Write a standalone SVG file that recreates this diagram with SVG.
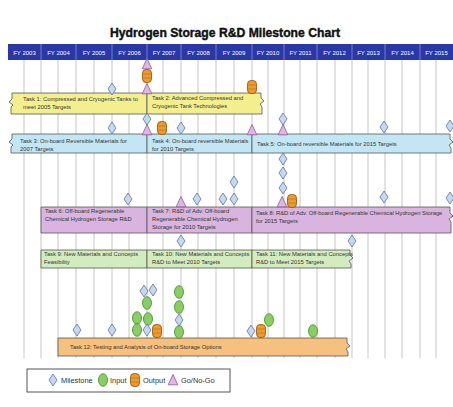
<svg xmlns="http://www.w3.org/2000/svg" xmlns:xlink="http://www.w3.org/1999/xlink" width="453" height="407" viewBox="0 0 453 407">
<style>
.t{font-family:"Liberation Sans",Arial,sans-serif;font-size:5.8px;fill:#333333}
.fy{font-family:"Liberation Sans",Arial,sans-serif;font-size:6px;fill:#ffffff;text-anchor:middle}
.lg{font-family:"Liberation Sans",Arial,sans-serif;font-size:7.4px;fill:#333}
.grid line{stroke:#c2bcbc;stroke-width:0.9}
.bar{stroke:#555555;stroke-width:0.8}
.y{fill:#f4ef8e}.b{fill:#c3e6f4}.p{fill:#d9b4de}.g{fill:#d3ecbf}.o{fill:#f6c07e}
</style>
<defs>
<path id="ms" d="M0,-6 L4,0 L0,6 L-4,0 Z" fill="#c6d8ee" stroke="#5a72a6" stroke-width="0.8"/>
<ellipse id="in" rx="4.5" ry="6.3" fill="#88cf60" stroke="#3d8a38" stroke-width="0.8"/>
<g id="out"><rect x="-4.5" y="-6.5" width="9" height="13" rx="3.6" fill="#f09a28" stroke="#8a5210" stroke-width="0.8"/><line x1="-4" y1="-2" x2="4" y2="-2" stroke="#b86a10" stroke-width="0.6"/><line x1="-4" y1="2" x2="4" y2="2" stroke="#b86a10" stroke-width="0.6"/></g>
<path id="gn" d="M0,-5.5 L4.8,4.8 L-4.8,4.8 Z" fill="#e2b5e6" stroke="#8e5a96" stroke-width="0.8"/>
</defs>
<rect width="453" height="407" fill="#ffffff"/>
<text x="225" y="37" text-anchor="middle" textLength="230" lengthAdjust="spacingAndGlyphs" style="font-family:'Liberation Sans',Arial,sans-serif;font-weight:bold;font-size:13.5px;fill:#111;stroke:#111;stroke-width:0.45">Hydrogen Storage R&amp;D Milestone Chart</text>

<g id="header">
<rect x="8" y="44" width="445" height="16" fill="#2a37a6"/>
<g stroke="#8890d0" stroke-width="0.8">
<line x1="41" y1="44" x2="41" y2="60"/><line x1="76" y1="44" x2="76" y2="60"/><line x1="112" y1="44" x2="112" y2="60"/><line x1="147" y1="44" x2="147" y2="60"/><line x1="181" y1="44" x2="181" y2="60"/><line x1="216" y1="44" x2="216" y2="60"/><line x1="252" y1="44" x2="252" y2="60"/><line x1="284" y1="44" x2="284" y2="60"/><line x1="317" y1="44" x2="317" y2="60"/><line x1="352" y1="44" x2="352" y2="60"/><line x1="385" y1="44" x2="385" y2="60"/><line x1="420" y1="44" x2="420" y2="60"/>
</g>
<text class="fy" x="24.5" y="54.5">FY 2003</text><text class="fy" x="58.5" y="54.5">FY 2004</text><text class="fy" x="94" y="54.5">FY 2005</text><text class="fy" x="129.5" y="54.5">FY 2006</text><text class="fy" x="164" y="54.5">FY 2007</text><text class="fy" x="198.5" y="54.5">FY 2008</text><text class="fy" x="234" y="54.5">FY 2009</text><text class="fy" x="268" y="54.5">FY 2010</text><text class="fy" x="300.5" y="54.5">FY 2011</text><text class="fy" x="334.5" y="54.5">FY 2012</text><text class="fy" x="368.5" y="54.5">FY 2013</text><text class="fy" x="402.5" y="54.5">FY 2014</text><text class="fy" x="436.5" y="54.5">FY 2015</text>
</g>

<g id="connectors" class="grid">
<line x1="24" y1="60" x2="24" y2="358"/><line x1="41" y1="60" x2="41" y2="358"/><line x1="58" y1="60" x2="58" y2="358"/><line x1="76" y1="60" x2="76" y2="358"/><line x1="94" y1="60" x2="94" y2="358"/><line x1="112" y1="60" x2="112" y2="358"/><line x1="129" y1="60" x2="129" y2="358"/><line x1="147" y1="60" x2="147" y2="358"/><line x1="163" y1="60" x2="163" y2="358"/><line x1="181" y1="60" x2="181" y2="358"/><line x1="198" y1="60" x2="198" y2="358"/><line x1="216" y1="60" x2="216" y2="358"/><line x1="234" y1="60" x2="234" y2="358"/><line x1="252" y1="60" x2="252" y2="358"/><line x1="268" y1="60" x2="268" y2="358"/><line x1="284" y1="60" x2="284" y2="358"/><line x1="300" y1="60" x2="300" y2="358"/><line x1="317" y1="60" x2="317" y2="358"/><line x1="335" y1="60" x2="335" y2="358"/><line x1="352" y1="60" x2="352" y2="358"/><line x1="368" y1="60" x2="368" y2="358"/><line x1="385" y1="60" x2="385" y2="358"/><line x1="402" y1="60" x2="402" y2="358"/><line x1="420" y1="60" x2="420" y2="358"/><line x1="436" y1="60" x2="436" y2="358"/>
</g>

<g id="task1"><path class="bar y" d="M147,93 H12 V99 l-3,3 l4,3 l-2,2 V114 H147 Z"/><text class="t" x="23" y="101">Task 1: Compressed and Cryogenic Tanks to</text><text class="t" x="23" y="109">meet 2005 Targets</text></g>
<g id="task2"><path class="bar y" d="M147,93 H261 V98 l3,3 l-4,3 l2,3 V114 H147 Z"/><text class="t" x="152" y="100">Task 2: Advanced Compressed and</text><text class="t" x="152" y="108">Cryogenic Tank Technologies</text></g>
<g id="task3"><path class="bar b" d="M147,134 H12 V139 l-3,3 l4,3 l-2,2 V153 H147 Z"/><text class="t" x="20" y="143">Task 3: On-board Reversible Materials for</text><text class="t" x="20" y="151">2007 Targets</text></g>
<g id="task4"><path class="bar b" d="M147,134 H252 V153 H147 Z"/><text class="t" x="152" y="143">Task 4: On-board reversible Materials</text><text class="t" x="152" y="151">for 2010 Targets</text></g>
<g id="task5"><path class="bar b" d="M252,134 H450 V139 l3,3 l-4,3 l2,3 V153 H252 Z"/><text class="t" x="257" y="146">Task 5: On-board reversible Materials for 2015 Targets</text></g>
<g id="task6"><path class="bar p" d="M41,207 H147 V233 H41 Z"/><text class="t" x="45" y="213">Task 6: Off-board Regenerable</text><text class="t" x="45" y="221">Chemical Hydrogen Storage R&amp;D</text></g>
<g id="task7"><path class="bar p" d="M147,207 H252 V233 H147 Z"/><text class="t" x="152" y="213">Task 7: R&amp;D of Adv. Off-board</text><text class="t" x="152" y="221">Regenerable Chemical Hydrogen</text><text class="t" x="152" y="229">Storage for 2010 Targets</text></g>
<g id="task8"><path class="bar p" d="M252,207 H450 V213 l3,3 l-4,3 l2,3 V233 H252 Z"/><text class="t" x="256" y="215">Task 8: R&amp;D of Adv. Off-board Regenerable Chemical Hydrogen Storage</text><text class="t" x="256" y="223">for 2015 Targets</text></g>
<g id="task9"><path class="bar g" d="M41,250 H147 V268 H41 Z"/><text class="t" x="44" y="256">Task 9: New Materials and Concepts</text><text class="t" x="44" y="264">Feasibility</text></g>
<g id="task10"><path class="bar g" d="M147,250 H252 V268 H147 Z"/><text class="t" x="152" y="256">Task 10: New Materials and Concepts</text><text class="t" x="152" y="264">R&amp;D to Meet 2010 Targets</text></g>
<g id="task11"><path class="bar g" d="M252,250 H350 V255 l3,3 l-4,3 l2,3 V268 H252 Z"/><text class="t" x="256" y="256">Task 11: New Materials and Concepts</text><text class="t" x="256" y="264">R&amp;D to Meet 2015 Targets</text></g>
<g id="task12"><path class="bar o" d="M58,338 H347 V343 l3,3 l-4,3 l2,3 V356 H58 Z"/><text class="t" x="70" y="349">Task 12: Testing and Analysis of On-board Storage Options</text></g>

<g id="markers">
<use href="#gn" x="147" y="64"/><use href="#out" x="147" y="76"/><use href="#gn" x="147" y="89"/>
<use href="#ms" x="112" y="89"/>
<use href="#out" x="252" y="87"/>
<use href="#ms" x="147" y="119"/><use href="#gn" x="147" y="130"/>
<use href="#ms" x="112" y="128"/>
<use href="#out" x="162" y="128"/>
<use href="#ms" x="181" y="128"/>
<use href="#gn" x="252" y="130"/>
<use href="#ms" x="283" y="119"/><use href="#gn" x="283" y="130"/>
<use href="#ms" x="384" y="127"/>
<use href="#ms" x="450" y="126"/>
<use href="#ms" x="283" y="159"/><use href="#ms" x="283" y="173"/><use href="#ms" x="283" y="188"/><use href="#gn" x="282" y="202"/><use href="#out" x="292" y="201"/>
<use href="#ms" x="128" y="199"/>
<use href="#gn" x="181" y="202"/>
<use href="#ms" x="197" y="199"/>
<use href="#ms" x="223" y="199"/>
<use href="#ms" x="234" y="182"/><use href="#ms" x="234" y="199"/>
<use href="#ms" x="384" y="197"/>
<use href="#ms" x="450" y="198"/>
<use href="#ms" x="181" y="241"/>
<use href="#ms" x="352" y="241"/>
<use href="#ms" x="77" y="330"/>
<use href="#ms" x="112" y="330"/>
<use href="#ms" x="144" y="291"/><use href="#ms" x="153" y="290"/>
<use href="#in" x="147" y="303"/>
<use href="#in" x="137" y="318"/><use href="#in" x="148" y="319"/>
<use href="#in" x="137" y="330"/><use href="#ms" x="147" y="330"/><use href="#out" x="157" y="331"/>
<use href="#in" x="179" y="292"/><use href="#in" x="179" y="307"/><use href="#ms" x="179" y="320"/><use href="#in" x="179" y="332"/>
<use href="#ms" x="251" y="331"/><use href="#out" x="261" y="331"/><use href="#in" x="269" y="320"/>
<use href="#in" x="313" y="331"/>
</g>

<g id="legend">
<rect x="27" y="369" width="203" height="23" fill="#ffffff" stroke="#555" stroke-width="1"/>
<use href="#ms" x="53" y="380"/>
<text class="lg" x="61" y="383">Milestone</text>
<use href="#in" x="103" y="380"/>
<text class="lg" x="110" y="383">Input</text>
<use href="#out" x="135" y="380"/>
<text class="lg" x="143" y="383">Output</text>
<use href="#gn" x="173" y="380"/>
<text class="lg" x="181" y="383">Go/No-Go</text>
</g>
</svg>
